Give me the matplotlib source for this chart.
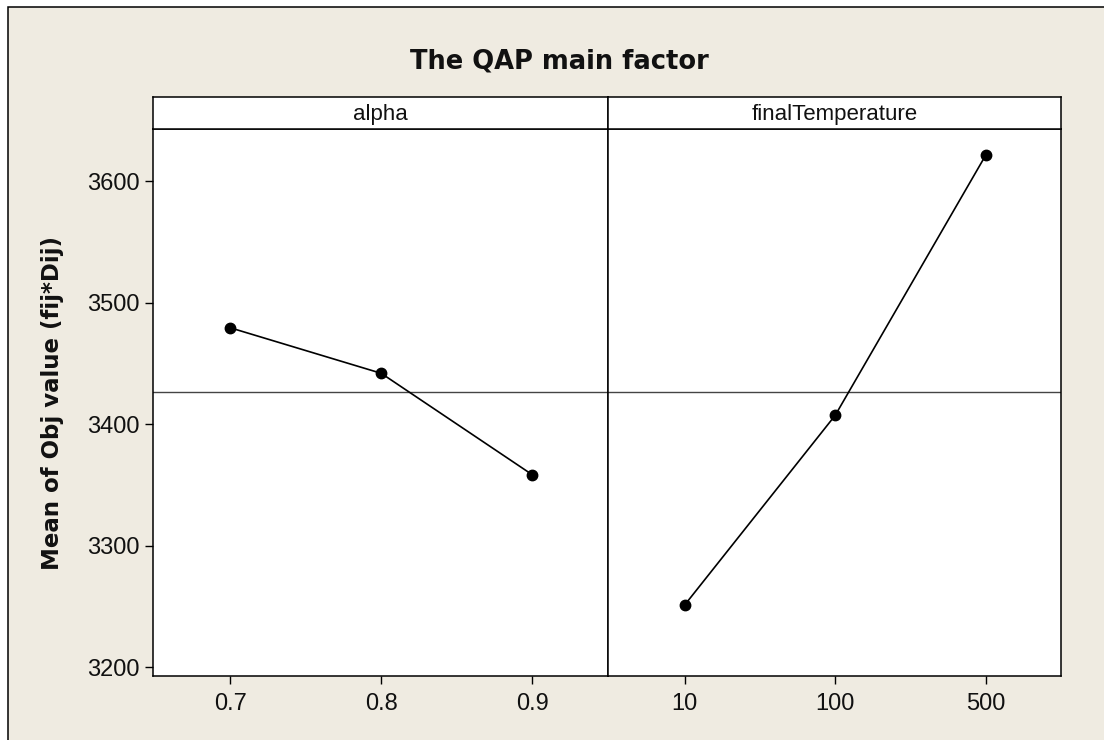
import matplotlib.pyplot as plt
from matplotlib.patches import Rectangle

# main effects means
alpha_levels = ["0.7", "0.8", "0.9"]
alpha_means = [3479.5, 3442.0, 3358.5]
temp_levels = ["10", "100", "500"]
temp_means = [3251.5, 3407.5, 3621.5]
grand_mean = 3427.0

panels = [("alpha", alpha_levels, alpha_means),
          ("finalTemperature", temp_levels, temp_means)]
y_ticks = [3200, 3300, 3400, 3500, 3600]

plt.rcParams['font.family'] = ['Liberation Sans', 'DejaVu Sans']
beige = '#EFEBE1'
W, H = 1104, 740

fig = plt.figure(figsize=(W / 100, H / 100), dpi=100, facecolor='white')
fig.add_artist(Rectangle((7.5 / W, -0.1), 1.2, 1 - 7.5 / H + 0.1,
                         transform=fig.transFigure, facecolor=beige,
                         edgecolor='black', lw=1.1, zorder=-10))

fig.text(559 / W, 1 - 61 / H, "The QAP main factor", ha='center', va='center',
         fontsize=18.5, fontweight='bold', color='#111111',
         family='DejaVu Sans')

lefts = [153, 608]
widths = [455, 453]
bottom = (H - 676) / H
height = (676 - 129) / H
strip_b = (H - 129) / H
strip_h = 32 / H

for i, (name, levels, means) in enumerate(panels):
    ax = fig.add_axes([lefts[i] / W, bottom, widths[i] / W, height])
    ax.set_facecolor('white')
    pos = list(range(len(levels)))
    ax.axhline(grand_mean, color='#444444', lw=1.0, zorder=1)
    ax.plot(pos, means, color='black', lw=1.2, marker='o', ms=7.5, zorder=3)
    ax.set_xlim(-0.51, 2.5)
    ax.set_ylim(3193, 3643)
    ax.set_xticks(pos)
    ax.set_xticklabels(levels)
    for s in ax.spines.values():
        s.set_linewidth(1.1)
    ax.tick_params(axis='both', direction='out', length=6, width=1,
                   labelsize=17, colors='black', labelcolor='#111111')
    ax.tick_params(axis='x', pad=6)
    ax.tick_params(axis='y', pad=3.5)
    if i == 0:
        ax.set_yticks(y_ticks)
    else:
        ax.set_yticks([])

    st = fig.add_axes([lefts[i] / W, strip_b, widths[i] / W, strip_h])
    st.set_facecolor('white')
    st.set_xticks([])
    st.set_yticks([])
    for s in st.spines.values():
        s.set_linewidth(1.1)
    st.text(0.5, 0.45, name, ha='center', va='center', fontsize=16,
            color='#111111', transform=st.transAxes)

fig.text(53 / W, 1 - 403 / H, "Mean of Obj value (fij*Dij)", rotation=90,
         ha='center', va='center', fontsize=16.5, fontweight='bold',
         color='#111111', family='DejaVu Sans')

fig.savefig("out.png", dpi=100, facecolor=fig.get_facecolor())
